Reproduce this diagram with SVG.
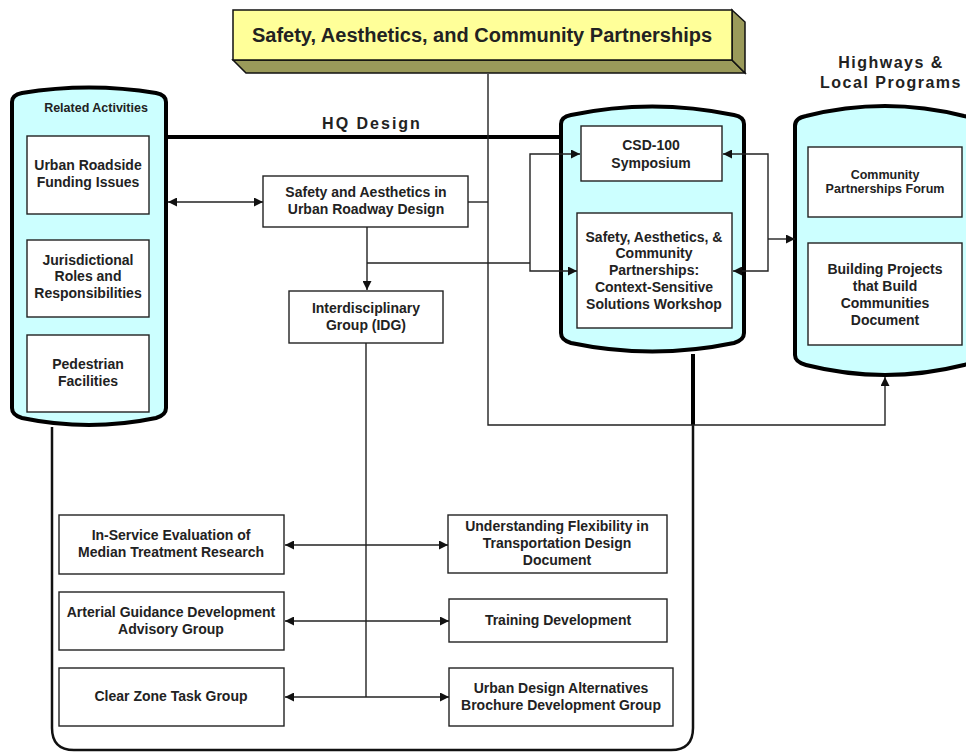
<svg xmlns="http://www.w3.org/2000/svg" width="966" height="753" viewBox="0 0 966 753">
<defs>
<style>
.t{font-family:"Liberation Sans",Arial,sans-serif;font-weight:bold;fill:#222;text-anchor:middle;font-size:14px}
.s{font-size:12.5px}
.r{font-size:12.5px}
.h{font-size:16px;letter-spacing:1.5px}
.box{fill:#fff;stroke:#222;stroke-width:1.4}
.cyl{fill:#ccffff;stroke:#000;stroke-width:4}
.ln{fill:none;stroke:#222;stroke-width:1.4}
.thk{fill:none;stroke:#000;stroke-width:4}
.frm{fill:none;stroke:#111;stroke-width:2.5}
</style>
<marker id="ae" viewBox="0 0 10 10" refX="10" refY="5" markerWidth="11" markerHeight="9" markerUnits="userSpaceOnUse" orient="auto"><path d="M0,0 L10,5 L0,10 Z" fill="#111"/></marker>
<marker id="as" viewBox="0 0 10 10" refX="0" refY="5" markerWidth="11" markerHeight="9" markerUnits="userSpaceOnUse" orient="auto"><path d="M10,0 L0,5 L10,10 Z" fill="#111"/></marker>
</defs>

<g id="banner">
<polygon points="233,60 732,60 745,73 246,73" fill="#9a9a5a" stroke="#111" stroke-width="1.5"/>
<polygon points="732,10 745,22 745,73 732,60" fill="#9a9a5a" stroke="#111" stroke-width="1.5"/>
<rect x="233" y="10" width="499" height="50" fill="#ffff99" stroke="#111" stroke-width="1.5"/>
<text class="t" x="482" y="42" style="font-size:20px">Safety, Aesthetics, and Community Partnerships</text>
</g>

<g id="hq-design">
<text class="t h" x="372" y="129" style="letter-spacing:2px">HQ Design</text>
</g>

<g id="related-activities">
<path class="cyl" d="M12,102 Q12,95 22,93 Q89,82 156,93 Q166,95 166,102 L166,408 Q166,415 156,418 Q89,432 22,418 Q12,415 12,408 Z"/>
<text class="t r" x="96" y="112">Related Activities</text>
</g>
<g id="urban-roadside">
<rect class="box" x="27" y="136" width="122" height="78"/>
<text class="t" x="88" y="170">Urban Roadside</text>
<text class="t" x="88" y="187">Funding Issues</text>
</g>
<g id="jurisdictional">
<rect class="box" x="27" y="240" width="122" height="77"/>
<text class="t" x="88" y="265">Jurisdictional</text>
<text class="t" x="88" y="281">Roles and</text>
<text class="t" x="88" y="298">Responsibilities</text>
</g>
<g id="pedestrian">
<rect class="box" x="27" y="335" width="122" height="77"/>
<text class="t" x="88" y="369">Pedestrian</text>
<text class="t" x="88" y="386">Facilities</text>
</g>

<g id="safety-aesthetics-urban">
<rect class="box" x="263" y="176" width="205" height="51"/>
<text class="t" x="366" y="197">Safety and Aesthetics in</text>
<text class="t" x="366" y="214">Urban Roadway Design</text>
</g>
<g id="idg">
<rect class="box" x="289" y="291" width="154" height="52"/>
<text class="t" x="366" y="313">Interdisciplinary</text>
<text class="t" x="366" y="330">Group (IDG)</text>
</g>

<g id="hq-cylinder">
<path class="cyl" d="M561,124 Q561,117 571,115 Q652,98 734,115 Q744,117 744,124 L744,333 Q744,340 734,343 Q652,360 571,343 Q561,340 561,333 Z"/>
</g>
<g id="csd-100">
<rect class="box" x="581" y="126" width="141" height="55"/>
<text class="t" x="651" y="150">CSD-100</text>
<text class="t" x="651" y="168">Symposium</text>
</g>
<g id="csd-workshop">
<rect class="box" x="577" y="213" width="155" height="115"/>
<text class="t" x="654" y="242">Safety, Aesthetics, &amp;</text>
<text class="t" x="654" y="258">Community</text>
<text class="t" x="654" y="275">Partnerships:</text>
<text class="t" x="654" y="292">Context-Sensitive</text>
<text class="t" x="654" y="309">Solutions Workshop</text>
</g>

<g id="highways-local">
<text class="t h" x="891" y="68">Highways &amp;</text>
<text class="t h" x="891" y="88">Local Programs</text>
<path class="cyl" d="M795,126 Q795,118 806,116 Q885,96 964,116 Q975,118 975,126 L975,355 Q975,362 964,365 Q885,385 806,365 Q795,362 795,355 Z"/>
</g>
<g id="community-forum">
<rect class="box" x="808" y="147" width="154" height="70"/>
<text class="t s" x="885" y="179">Community</text>
<text class="t s" x="885" y="193">Partnerships Forum</text>
</g>
<g id="building-projects">
<rect class="box" x="808" y="243" width="154" height="102"/>
<text class="t" x="885" y="274">Building Projects</text>
<text class="t" x="885" y="291">that Build</text>
<text class="t" x="885" y="308">Communities</text>
<text class="t" x="885" y="325">Document</text>
</g>

<g id="in-service">
<rect class="box" x="59" y="515" width="225" height="59"/>
<text class="t" x="171" y="540">In-Service Evaluation of</text>
<text class="t" x="171" y="557">Median Treatment Research</text>
</g>
<g id="understanding-flexibility">
<rect class="box" x="448" y="515" width="219" height="58"/>
<text class="t" x="557" y="531">Understanding Flexibility in</text>
<text class="t" x="557" y="548">Transportation Design</text>
<text class="t" x="557" y="565">Document</text>
</g>
<g id="arterial-guidance">
<rect class="box" x="59" y="592" width="225" height="58"/>
<text class="t" x="171" y="617">Arterial Guidance Development</text>
<text class="t" x="171" y="634">Advisory Group</text>
</g>
<g id="training">
<rect class="box" x="449" y="599" width="218" height="43"/>
<text class="t" x="558" y="625">Training Development</text>
</g>
<g id="clear-zone">
<rect class="box" x="59" y="668" width="225" height="58"/>
<text class="t" x="171" y="701">Clear Zone Task Group</text>
</g>
<g id="urban-design-alternatives">
<rect class="box" x="449" y="668" width="224" height="58"/>
<text class="t" x="561" y="693">Urban Design Alternatives</text>
<text class="t" x="561" y="710">Brochure Development Group</text>
</g>

<g id="connectors">
<path class="frm" d="M52,427 L52,728 Q52,750 74,750 L671,750 Q693,750 693,728 L693,425"/>
<path class="thk" d="M693,354 L693,425"/>
<path class="thk" d="M168,137 L559,137"/>
<path class="ln" d="M488,74 L488,425 L885,425 L885,377" marker-end="url(#ae)"/>
<path class="ln" d="M168,202 L263,202" marker-start="url(#as)" marker-end="url(#ae)"/>
<path class="ln" d="M468,202 L488,202"/>
<path class="ln" d="M367,227 L367,290" marker-end="url(#ae)"/>
<path class="ln" d="M367,263 L530,263"/>
<path class="ln" d="M580,154 L530,154 L530,271 L577,271" marker-start="url(#as)" marker-end="url(#ae)"/>
<path class="ln" d="M723,154 L768,154 L768,271 L733,271" marker-start="url(#as)" marker-end="url(#ae)"/>
<path class="ln" d="M768,239 L795,239" marker-end="url(#ae)"/>
<path class="ln" d="M366,343 L366,697"/>
<path class="ln" d="M285,545 L448,545" marker-start="url(#as)" marker-end="url(#ae)"/>
<path class="ln" d="M285,621 L449,621" marker-start="url(#as)" marker-end="url(#ae)"/>
<path class="ln" d="M285,697 L449,697" marker-start="url(#as)" marker-end="url(#ae)"/>
</g>
</svg>
